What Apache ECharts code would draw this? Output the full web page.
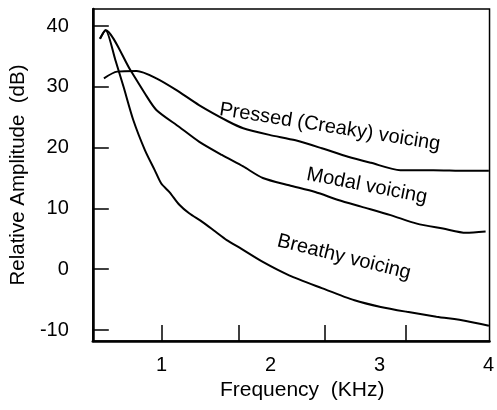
<!DOCTYPE html>
<html><head><meta charset="utf-8">
<script src="https://cdn.jsdelivr.net/npm/echarts@6/dist/echarts.min.js"></script>
<style>html,body{margin:0;padding:0;background:#fff}#c{width:497px;height:410px}</style>
</head><body><div id="c"></div>
<script>
// Data (frequency in kHz, relative amplitude in dB)
const breathyFreq = [0.436,0.487,0.577,0.652,0.742,0.848,0.938,0.998,1.073,1.164,1.254,1.374,1.494,1.599,1.720,1.930,2.171,2.471,2.771,3.012,3.253,3.523,3.794,4.004];
const breathyAmp  = [37.9,39.3,34.4,30.0,24.5,19.6,16.3,14.1,12.7,10.6,9.2,7.8,6.2,4.8,3.5,1.2,-1.0,-3.1,-5.1,-6.2,-7.0,-7.8,-8.5,-9.3];
const modalFreq = [0.436,0.487,0.713,0.848,0.953,1.164,1.344,1.554,1.750,1.930,2.171,2.411,2.622,2.832,3.102,3.343,3.583,3.794,3.974];
const modalAmp  = [37.9,39.3,32.8,28.9,26.2,23.4,21.0,18.8,16.9,15.0,13.8,12.7,11.4,10.3,8.9,7.5,6.7,6.0,6.2];
const pressedFreq = [0.472,0.593,0.773,0.953,1.134,1.344,1.614,1.750,1.990,2.230,2.471,2.712,2.922,3.192,3.493,3.794,4.004];
const pressedAmp  = [31.4,32.5,32.6,31.4,29.5,27.0,24.3,23.2,22.1,21.2,19.9,18.5,17.5,16.3,16.3,16.2,16.2];
const xTickLabels = [1,2,3,4];
const xTickMarks = [1.0,1.71,2.5,3.24];
const yTickLabels = [-10,0,10,20,30,40];
const curveNames = ['Pressed (Creaky) voicing','Modal voicing','Breathy voicing'];
const labelFreq = [2.545,2.885,2.675];
const labelAmp = [23.4,13.7,2.0];
const labelAngleDeg = [9,11,14];

const FONT = '"Liberation Sans", Arial, Helvetica, sans-serif';
const pair = (xs, ys) => xs.map((x, i) => [x, ys[i]]);
const chart = echarts.init(document.getElementById('c'), null, {renderer: 'canvas'});
const lineStyle = {color: '#000', width: 2};
const mk = (name, data) => ({
  name, type: 'line', data, smooth: 0.25, showSymbol: false, symbol: 'none',
  lineStyle, silent: true, animation: false
});
chart.setOption({
  animation: false,
  backgroundColor: '#fff',
  grid: {left: 92, right: 1, top: 9, bottom: 69, show: true, borderColor: '#000', borderWidth: 1.5, backgroundColor: 'transparent'},
  xAxis: {
    type: 'value', min: 0.37, max: 4.01,
    name: 'Frequency  (KHz)', nameLocation: 'middle', nameGap: 37,
    nameTextStyle: {fontFamily: FONT, fontSize: 21, color: '#000', padding: [0, 0, 0, 22]},
    axisLine: {show: true, onZero: false, lineStyle: {color: '#000', width: 2.5}},
    axisTick: {show: true, inside: true, length: 16, lineStyle: {color: '#000', width: 1.5}, customValues: xTickMarks},
    axisLabel: {fontFamily: FONT, fontSize: 20, color: '#000', margin: 14, customValues: xTickLabels},
    splitLine: {show: false}
  },
  yAxis: {
    type: 'value', min: -11.8, max: 42.8,
    name: 'Relative Amplitude  (dB)', nameLocation: 'middle', nameGap: 60, nameRotate: 90,
    nameTextStyle: {fontFamily: FONT, fontSize: 20.5, color: '#000'},
    axisLine: {show: true, onZero: false, lineStyle: {color: '#000', width: 2.5}},
    axisTick: {show: true, inside: true, length: 16, lineStyle: {color: '#000', width: 1.5}, customValues: yTickLabels},
    axisLabel: {fontFamily: FONT, fontSize: 20, color: '#000', margin: 24, customValues: yTickLabels},
    splitLine: {show: false}
  },
  series: [
    mk(curveNames[0], pair(pressedFreq, pressedAmp)),
    mk(curveNames[1], pair(modalFreq, modalAmp)),
    mk(curveNames[2], pair(breathyFreq, breathyAmp))
  ]
});
const graphics = curveNames.map((t, i) => {
  const p = chart.convertToPixel({gridIndex: 0}, [labelFreq[i], labelAmp[i]]);
  return {
    type: 'text', x: p[0], y: p[1], rotation: -labelAngleDeg[i] * Math.PI / 180,
    style: {text: t, fontFamily: FONT, fontSize: 20, fill: '#000', align: 'center', verticalAlign: 'middle'}
  };
});
chart.setOption({graphic: graphics});
</script></body></html>
